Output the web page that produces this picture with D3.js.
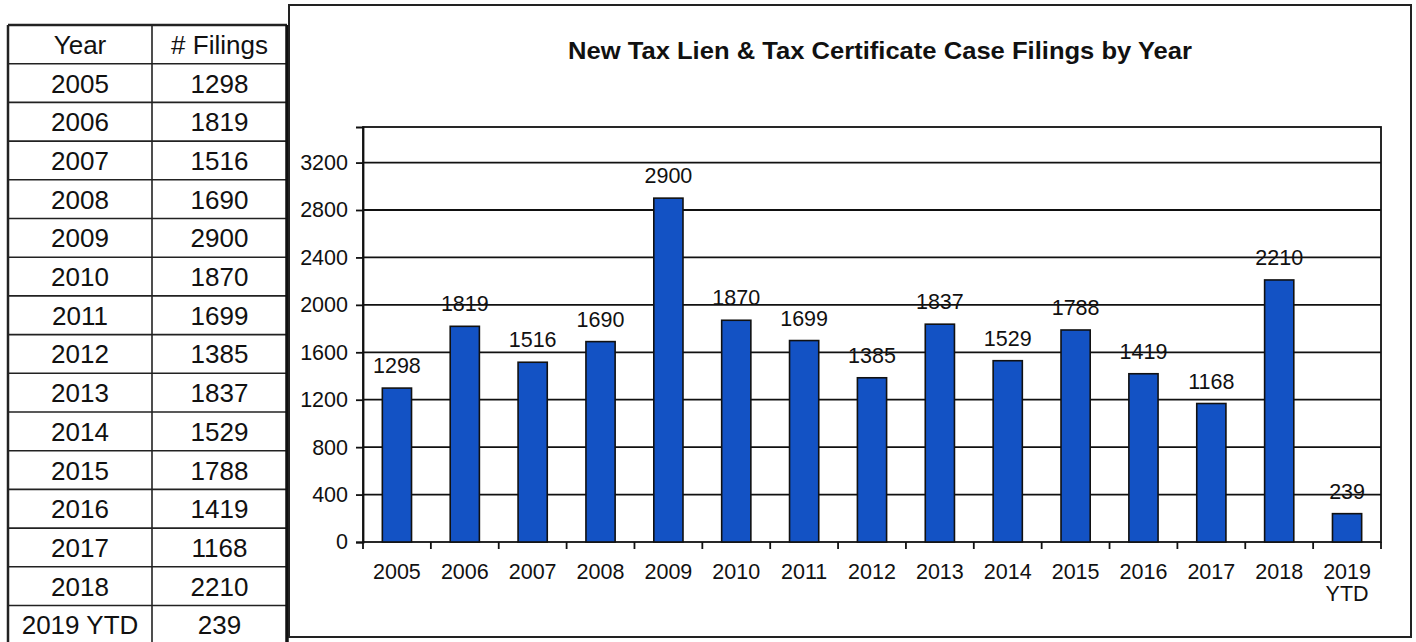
<!DOCTYPE html>
<html>
<head>
<meta charset="utf-8">
<script src="https://cdn.jsdelivr.net/npm/d3@7"></script>
<style>
  html, body { margin: 0; padding: 0; background: #fff; }
  svg { display: block; font-family: "Liberation Sans", Arial, sans-serif; }
</style>
</head>
<body>
<svg id="chart" width="1416" height="642"></svg>
<script>
// ---- Data ----
const years = ["2005","2006","2007","2008","2009","2010","2011","2012","2013","2014","2015","2016","2017","2018","2019 YTD"];
const filings = [1298,1819,1516,1690,2900,1870,1699,1385,1837,1529,1788,1419,1168,2210,239];
const tableHeaders = ["Year", "# Filings"];
const yTicks = [0,400,800,1200,1600,2000,2400,2800,3200];
const chartTitle = "New Tax Lien & Tax Certificate Case Filings by Year";

(function(){
const svg = d3.select("#chart");
svg.append("rect").attr("width",1416).attr("height",642).attr("fill","#fff");

// ---- Table ----
const tbl = svg.append("g");
const colX = [8, 152, 287];
const rowTop = 25, rowH = 38.7;
const rows = [tableHeaders].concat(years.map((y,i)=>[y, String(filings[i])]));
const rowScale = d3.scaleLinear().domain([0, rows.length]).range([rowTop, rowTop + rows.length*rowH]);
rows.forEach((r,i)=>{
  const y0 = rowScale(i), y1 = rowScale(i+1);
  tbl.append("line").attr("x1",colX[0]).attr("x2",colX[2]).attr("y1",y0).attr("y2",y0)
    .attr("stroke","#222").attr("stroke-width",i===0?2.5:1.6);
  r.forEach((t,j)=>{
    tbl.append("text").attr("x",(colX[j]+colX[j+1])/2).attr("y",(y0+y1)/2+9.5)
      .attr("text-anchor","middle").attr("font-size",26).attr("fill","#111").text(t);
  });
});
[colX[0], colX[1]].forEach(x=>{
  tbl.append("line").attr("x1",x).attr("x2",x).attr("y1",rowTop).attr("y2",642)
    .attr("stroke","#222").attr("stroke-width",x===colX[0]?2.5:1.6);
});
tbl.append("line").attr("x1",colX[2]).attr("x2",colX[2]).attr("y1",rowTop).attr("y2",642)
  .attr("stroke","#111").attr("stroke-width",3.5);

// ---- Chart box ----
svg.append("rect").attr("x",289).attr("y",5).attr("width",1122).attr("height",632)
  .attr("fill","none").attr("stroke","#222").attr("stroke-width",2);

svg.append("text").attr("x",880).attr("y",59).attr("text-anchor","middle")
  .attr("font-size",24).attr("font-weight","bold").attr("fill","#111")
  .attr("textLength",624).attr("lengthAdjust","spacingAndGlyphs")
  .text(chartTitle);

// ---- Plot ----
const pLeft = 363, pRight = 1381, pTop = 127, pBottom = 542;
const x = d3.scaleBand().domain(years).range([pLeft,pRight]).paddingInner(0.57).paddingOuter(0.285);
const xb = d3.scaleBand().domain(years).range([pLeft,pRight]);
const y = d3.scaleLinear().domain([0,3500]).range([pBottom,pTop]);

// gridlines
svg.append("g").selectAll("line").data(yTicks.filter(d=>d>0)).join("line")
  .attr("x1",pLeft).attr("x2",pRight).attr("y1",d=>y(d)).attr("y2",d=>y(d))
  .attr("stroke","#111").attr("stroke-width",1.8);

// plot border
svg.append("rect").attr("x",pLeft).attr("y",pTop).attr("width",pRight-pLeft).attr("height",pBottom-pTop)
  .attr("fill","none").attr("stroke","#111").attr("stroke-width",1.8);

// bars
svg.append("g").selectAll("rect").data(filings).join("rect")
  .attr("x",(d,i)=>x(years[i])).attr("width",x.bandwidth())
  .attr("y",d=>y(d)).attr("height",d=>pBottom-y(d))
  .attr("fill","#1352c4").attr("stroke","#111").attr("stroke-width",1.6);

// value labels
svg.append("g").selectAll("text").data(filings).join("text")
  .attr("x",(d,i)=>x(years[i])+x.bandwidth()/2).attr("y",d=>y(d)-15)
  .attr("text-anchor","middle").attr("font-size",21.5).attr("fill","#111")
  .text(d=>d);

// y axis
const yAxis = d3.axisLeft(y).tickValues(yTicks).tickSize(7).tickPadding(8).tickFormat(d3.format("d"));
const ya = svg.append("g").attr("transform",`translate(${pLeft},0)`).call(yAxis);
ya.select(".domain").attr("stroke","#111").attr("stroke-width",1.8);
ya.selectAll(".tick line").attr("stroke","#111").attr("stroke-width",1.8);
ya.selectAll(".tick text").attr("font-size",21.5).attr("fill","#111").attr("font-family","Liberation Sans, Arial, sans-serif");

// x axis ticks at band boundaries
const bounds = years.map(d=>xb(d)).concat([pRight]);
svg.append("g").selectAll("line").data(bounds).join("line")
  .attr("x1",d=>d).attr("x2",d=>d).attr("y1",pBottom).attr("y2",pBottom+7)
  .attr("stroke","#111").attr("stroke-width",1.8);

// x labels
const xl = svg.append("g").selectAll("text").data(years).join("text")
  .attr("x",d=>xb(d)+xb.bandwidth()/2).attr("y",579)
  .attr("text-anchor","middle").attr("font-size",21.5).attr("fill","#111");
xl.each(function(d){
  const parts = d.split(" ");
  const t = d3.select(this);
  parts.forEach((p,k)=>{
    t.append("tspan").attr("x",xb(d)+xb.bandwidth()/2).attr("dy",k===0?0:22).text(p);
  });
});
})();
</script>
</body>
</html>
